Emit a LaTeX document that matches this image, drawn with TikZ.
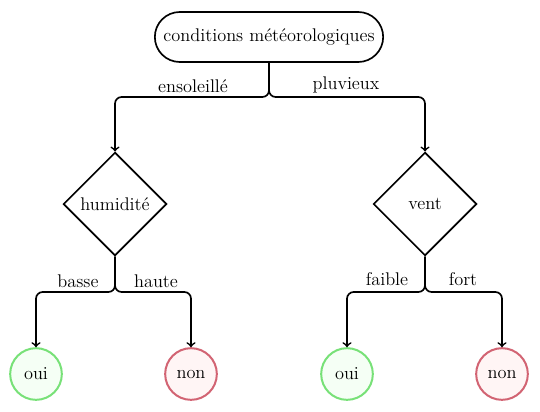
\documentclass[tikz,border=0pt]{standalone}
\usetikzlibrary{shapes.geometric}
\definecolor{leafgreen}{RGB}{120,225,120}
\definecolor{leafred}{RGB}{210,100,115}
\begin{document}
\begin{tikzpicture}[x=0.6pt,y=-0.6pt,
  every node/.style={font=\fontsize{11}{13.5}\selectfont},
  rootbox/.style={draw,line width=1pt,rounded corners=15pt,minimum width=137pt,minimum height=30pt,inner sep=2pt},
  decision/.style={draw,line width=1pt,diamond,minimum width=62pt,minimum height=62pt,inner sep=0pt},
  yesleaf/.style={circle,draw=leafgreen,fill=green!4,line width=1.2pt,minimum size=31pt,inner sep=0pt},
  noleaf/.style={circle,draw=leafred,fill=red!4,line width=1.2pt,minimum size=31pt,inner sep=0pt},
  edge/.style={line width=1pt,->,rounded corners=4pt},
  lbl/.style={inner sep=0pt}]
\useasboundingbox (0,0) rectangle (540,411);
\node[rootbox] (root) at (269,37) {conditions météorologiques};
\node[decision] (d1) at (115,204) {humidité};
\node[decision] (d2) at (425,204) {vent};
\node[yesleaf] (l1) at (36,374) {oui};
\node[noleaf] (l2) at (191,374) {non};
\node[yesleaf] (l3) at (347,374) {oui};
\node[noleaf] (l4) at (502,374) {non};
\coordinate (j0) at (269,97);
\coordinate (j1) at (115,292);
\coordinate (j2) at (425,292);
\draw[edge] (root.south) -- (j0) -| (d1.north);
\draw[edge] (root.south) -- (j0) -| (d2.north);
\draw[edge] (d1.south) -- (j1) -| (l1.north);
\draw[edge] (d1.south) -- (j1) -| (l2.north);
\draw[edge] (d2.south) -- (j2) -| (l3.north);
\draw[edge] (d2.south) -- (j2) -| (l4.north);
\node[lbl] (t1) at (193,86) {ensoleillé};
\node[lbl] (t2) at (346,85) {pluvieux};
\node[lbl] (t3) at (78,281) {basse};
\node[lbl] (t4) at (156,281) {haute};
\node[lbl] (t5) at (387,279) {faible};
\node[lbl] (t6) at (463,279) {fort};
\end{tikzpicture}
\end{document}
